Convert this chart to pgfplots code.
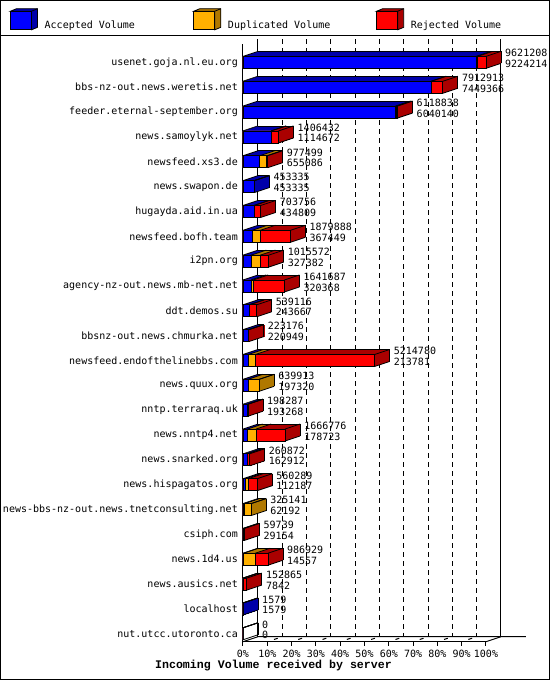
\documentclass[border=0pt]{standalone}
\usepackage{pgfplots}
\pgfplotsset{compat=1.18}
\usepackage{pgfplotstable}
\usepackage{fontspec}
\setmainfont{DejaVu Sans Mono}
\newfontfamily\labelfont{Liberation Mono}

\definecolor{accF}{RGB}{0,0,255}
\definecolor{accD}{RGB}{0,0,170}
\definecolor{dupF}{RGB}{255,176,0}
\definecolor{dupD}{RGB}{176,120,0}
\definecolor{rejF}{RGB}{255,0,0}
\definecolor{rejD}{RGB}{170,0,0}

% total and accepted as printed; duplicated
\pgfplotstableread{
idx server total accepted duplicated
0 usenet.goja.nl.eu.org 9621208 9224214 55000
1 bbs-nz-out.news.weretis.net 7912913 7449366 0
2 feeder.eternal-september.org 6118838 6040140 30000
3 news.samoylyk.net 1406432 1114672 0
4 newsfeed.xs3.de 977499 655086 280000
5 news.swapon.de 453335 453335 0
6 hugayda.aid.in.ua 703756 434809 0
7 newsfeed.bofh.team 1879888 367449 320000
8 i2pn.org 1015572 327382 360000
9 agency-nz-out.news.mb-net.net 1641687 320368 80000
10 ddt.demos.su 539116 243667 0
11 bbsnz-out.news.chmurka.net 223176 220949 0
12 newsfeed.endofthelinebbs.com 5214780 213781 280000
13 news.quux.org 639913 197320 442593
14 nntp.terraraq.uk 198287 193268 0
15 news.nntp4.net 1666776 178723 340000
16 news.snarked.org 260872 162912 0
17 news.hispagatos.org 560289 112187 90000
18 news-bbs-nz-out.news.tnetconsulting.net 325141 62192 262949
19 csiph.com 59739 29154 0
20 news.1d4.us 986929 14557 470000
21 news.ausics.net 152865 7842 0
22 localhost 1579 1579 0
23 nut.utcc.utoronto.ca 0 0 0
}\servers

\newcommand\legcube[2]{%
  \addlegendimage{legend image code/.code={
    \filldraw[fill=#2, draw=black, line width=0.8pt] (0pt,13.8pt) -- (6pt,16.3pt) -- (27pt,16.3pt)
      -- (27pt,-2.3pt) -- (21pt,-4.8pt) -- (21pt,13.8pt) -- cycle;
    \draw[line width=0.8pt] (21pt,13.8pt) -- (27pt,16.3pt);
    \filldraw[fill=#1, draw=black, line width=0.8pt] (0pt,-4.8pt) rectangle (21pt,13.8pt);
    \path (34pt,0pt);
  }}}

% one slice of the bars' depth: #1 = offset in pt, #2 = overlap (axis units) with the next slice
\newcommand\depthslice[2]{%
  \addplot[seg=accD, xshift=#1pt, yshift=#1pt/3]
    table[x expr=\thisrow{accepted}/192424.16+#2/2,
          x error expr={\thisrow{accepted}>10 ? \thisrow{accepted}/192424.16+#2/2 : 0},
          y=idx]{\servers};
  \addplot[seg=dupD, xshift=#1pt, yshift=#1pt/3]
    table[x expr=(2*\thisrow{accepted}+\thisrow{duplicated})/192424.16+#2/2,
          x error expr={\thisrow{duplicated}>10 ? \thisrow{duplicated}/192424.16+#2/2 : 0},
          y=idx]{\servers};
  \addplot[seg=rejD, xshift=#1pt, yshift=#1pt/3]
    table[x expr=(\thisrow{total}+\thisrow{accepted}+\thisrow{duplicated})/192424.16+#2/2,
          x error expr={(\thisrow{total}-\thisrow{accepted}-\thisrow{duplicated})>10 ?
            (\thisrow{total}-\thisrow{accepted}-\thisrow{duplicated})/192424.16+#2/2 : 0},
          y=idx]{\servers};
}

\begin{document}
\begin{tikzpicture}
\begin{axis}[
  name=ax,
  scale only axis,
  width=243pt, height=597.7pt,
  xmin=0, xmax=100,
  ymin=-0.74, ymax=23.32,
  y dir=reverse,
  enlargelimits=false,
  clip=false,
  axis x line*=bottom,
  axis y line*=left,
  axis line style={line width=1pt, -},
  xtick={0,10,...,100},
  xticklabels={0\%,10\%,20\%,30\%,40\%,50\%,60\%,70\%,80\%,90\%,100\%},
  xtick align=outside,
  major tick length=4pt,
  xtick style={line width=1pt, black},
  xticklabel style={inner sep=0pt, yshift=-4pt},
  ytick={0,...,23},
  yticklabels from table={\servers}{server},
  ytick style={draw=none},
  yticklabel style={inner sep=0pt, xshift=-5pt},
  xmajorgrids,
  major grid style={line width=1pt, black, dash pattern=on 5pt off 4pt, xshift=15pt, yshift=5pt},
  extra x ticks={0,100},
  extra x tick labels={},
  extra x tick style={major tick length=0pt, grid=major, major grid style={solid}},
  xlabel={Incoming Volume received by server},
  xlabel style={at={(axis description cs:0.1255,0)}, anchor=center, yshift=-24.3pt,
    font=\labelfont\bfseries\fontsize{11.6}{14}\selectfont},
  legend style={at={(axis description cs:-0.95844,1.0414)}, anchor=west,
    draw=none, fill=none, inner sep=0pt, outer sep=0pt, legend columns=3,
    /tikz/column sep=0pt,
    /tikz/every even column/.style={column sep=0pt},
    /tikz/every odd column/.style={column sep=0pt},
    nodes={inner sep=0pt, outer sep=0pt}},
  legend cell align=left,
  bar3d/.style={xbar, bar width=12pt, bar shift=0pt, forget plot},
  seg/.style={forget plot, draw=none, no markers,
    /pgfplots/error bars/x dir=both, /pgfplots/error bars/x explicit,
    /pgfplots/error bars/error mark=none,
    /pgfplots/error bars/error bar style={line width=12pt, draw=#1, solid}},
  bedge/.style={forget plot, black, line width=0.8pt, -},
  numlabel/.style={point meta=explicit symbolic, nodes near coords,
    every node near coord/.append style={anchor=west, xshift=19pt, yshift=#1,
      inner sep=0pt, black, font=\fontsize{10}{12}\selectfont}},
]
\legcube{accF}{accD}
\addlegendentry{\makebox[148.7pt][l]{Accepted Volume}}
\legcube{dupF}{dupD}
\addlegendentry{\makebox[148.3pt][l]{Duplicated Volume}}
\legcube{rejF}{rejD}
\addlegendentry{Rejected Volume}

% floor of the box
\draw[line width=1pt] (axis cs:0,23.32) -- ++(15pt,5pt) -- ([xshift=40pt,yshift=5pt]axis cs:100,23.32);
\draw[line width=1pt] (axis cs:100,23.32) -- ++(15pt,5pt);
\pgfplotsinvokeforeach{10,20,...,90}{
  \draw[line width=1pt, dash pattern=on 0pt off 7pt on 4pt off 20pt] (axis cs:#1,23.32) -- ++(15pt,5pt);
}

% depth of the bars: slices from the back to the front
\depthslice{15}{0}
\pgfplotsinvokeforeach{14,13,...,0}{\depthslice{#1}{0.41152}}

% front faces
\addplot[bar3d, fill=rejF, draw=black, line width=0.8pt]
  table[x expr=\thisrow{total}/96212.08, y=idx]{\servers};
\addplot[bar3d, fill=dupF, draw=black, line width=0.8pt]
  table[x expr=(\thisrow{accepted}+\thisrow{duplicated})/96212.08, y=idx]{\servers};
\addplot[bar3d, fill=accF, draw=black, line width=0.8pt]
  table[x expr=\thisrow{accepted}/96212.08, y=idx]{\servers};

% receding and back edges
\addplot[bedge, quiver={u=6.1728, v=-0.2013}]
  table[x expr=0, y expr=\thisrow{idx}-0.2415]{\servers};
\addplot[bedge, quiver={u=6.1728, v=-0.2013}]
  table[x expr=\thisrow{accepted}/96212.08, y expr=\thisrow{idx}-0.2415]{\servers};
\addplot[bedge, quiver={u=6.1728, v=-0.2013}]
  table[x expr=(\thisrow{accepted}+\thisrow{duplicated})/96212.08, y expr=\thisrow{idx}-0.2415]{\servers};
\addplot[bedge, quiver={u=6.1728, v=-0.2013}]
  table[x expr=\thisrow{total}/96212.08, y expr=\thisrow{idx}-0.2415]{\servers};
\addplot[bedge, quiver={u=6.1728, v=-0.2013}]
  table[x expr=\thisrow{total}/96212.08, y expr=\thisrow{idx}+0.2415]{\servers};
\addplot[bedge, quiver={u=\thisrow{total}/96212.08, v=0}]
  table[x expr=6.1728, y expr=\thisrow{idx}-0.4428]{\servers};
\addplot[bedge, quiver={u=0, v=0.4831}]
  table[x expr=\thisrow{total}/96212.08+6.1728, y expr=\thisrow{idx}-0.4428]{\servers};

% the two figures beside each bar: total, then accepted
\addplot[bar3d, draw=none, fill=none, numlabel=9.3pt]
  table[x expr=\thisrow{total}/96212.08, y=idx, meta=total]{\servers};
\addplot[bar3d, draw=none, fill=none, numlabel=-1.4pt]
  table[x expr=\thisrow{total}/96212.08, y=idx, meta=accepted]{\servers};
\end{axis}
\draw[line width=1pt] ([shift={(-242.5pt,-37.8pt)}]ax.south west) rectangle ([shift={(306.5pt,641.2pt)}]ax.south west);
\draw[line width=1pt] ([shift={(-243pt,606.2pt)}]ax.south west) -- ([shift={(307pt,606.2pt)}]ax.south west);
\pgfresetboundingbox
\path[use as bounding box] ([shift={(-243pt,-38.3pt)}]ax.south west) rectangle ([shift={(307pt,641.7pt)}]ax.south west);
\end{tikzpicture}
\end{document}
